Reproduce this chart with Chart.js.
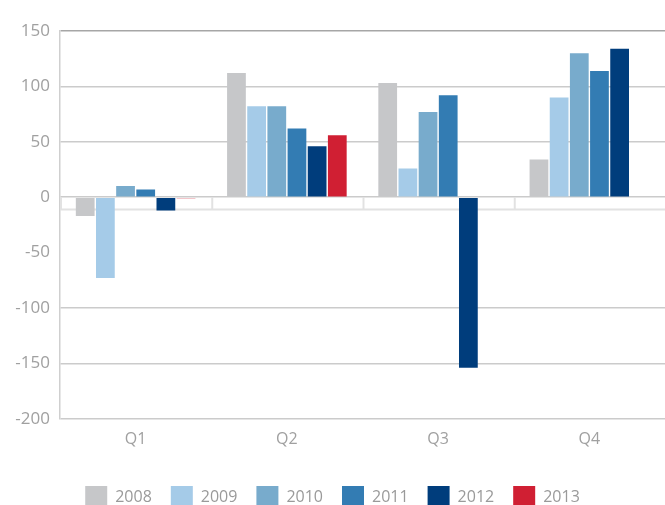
<!DOCTYPE html>
<html>
<head>
<meta charset="utf-8">
<script src="https://cdn.jsdelivr.net/npm/chart.js@4/dist/chart.umd.min.js"></script>
<style>
  html, body { margin: 0; padding: 0; background: #fff; }
  #wrap { width: 665px; height: 505px; }
</style>
</head>
<body>
<div id="wrap"><canvas id="myChart"></canvas></div>
<script>
// quarters on the x axis
const quarters = ["Q1", "Q2", "Q3", "Q4"];
const years = ["2008", "2009", "2010", "2011", "2012", "2013"];

// values
const v2008 = [-17, 112, 103, 34];
const v2009 = [-73, 82, 26, 90];
const v2010 = [10, 82, 77, 130];
const v2011 = [7, 62, 92, 114];
const v2012 = [-12, 46, -154, 134];
const v2013 = [-1, 56, null, null];

const yearColors = ["#c6c7c9", "#a5cbe8", "#78abcc", "#337cb3", "#003d7c", "#d01f33"];

// the light base line under zero, with ticks between the quarters
const baseLine = {
  id: "baseLine",
  beforeDatasetsDraw(chart) {
    const { ctx, chartArea, scales } = chart;
    const x = scales.x, y = scales.y;
    const yBase = y.getPixelForValue(-11);
    const yZero = y.getPixelForValue(0);
    ctx.save();
    ctx.strokeStyle = "#e2e2e2";
    ctx.lineWidth = 2;
    ctx.beginPath();
    ctx.moveTo(chartArea.left, yBase);
    ctx.lineTo(chartArea.right, yBase);
    ctx.stroke();
    const step = x.getPixelForValue(1) - x.getPixelForValue(0);
    for (let i = 0; i < quarters.length; i++) {
      const px = x.getPixelForValue(i) - step / 2;
      ctx.beginPath();
      ctx.moveTo(px + 1, yZero);
      ctx.lineTo(px + 1, yBase);
      ctx.stroke();
    }
    ctx.restore();
  }
};

const ctx = document.getElementById("myChart").getContext("2d");
const series = [v2008, v2009, v2010, v2011, v2012, v2013];

new Chart(ctx, {
  type: "bar",
  data: {
    labels: quarters,
    datasets: series.map((vals, i) => ({
      label: years[i],
      data: vals,
      backgroundColor: yearColors[i],
      borderWidth: 0,
      categoryPercentage: 0.8,
      barPercentage: 0.93
    }))
  },
  options: {
    responsive: true,
    maintainAspectRatio: false,
    animation: false,
    layout: { padding: { top: 31, right: 0, left: 0, bottom: -13 } },
    plugins: {
      tooltip: { enabled: false },
      legend: {
        position: "bottom",
        labels: {
          boxWidth: 22,
          boxHeight: 22,
          padding: 19,
          color: "#9a9a9a",
          font: { family: "Open Sans", size: 16 }
        }
      }
    },
    scales: {
      x: {
        afterFit(scale) { scale.height += 15; },
        grid: { display: false },
        border: { display: false },
        ticks: {
          color: "#a0a0a0",
          padding: 3,
          font: { family: "Open Sans", size: 16 }
        }
      },
      y: {
        min: -200,
        max: 150,
        afterFit(scale) { scale.width = 60; },
        border: { display: true, color: "#cfcfcf", width: 1.5 },
        grid: {
          drawTicks: false,
          lineWidth: 1.5,
          color(c) {
            if (c.tick.value === -50) return "rgba(0,0,0,0)";
            if (c.tick.value === 150) return "#a6a6a6";
            return "#cbcbcb";
          }
        },
        ticks: {
          stepSize: 50,
          padding: 10,
          color: "#a0a0a0",
          font: { family: "Open Sans", size: 17 }
        }
      }
    }
  },
  plugins: [baseLine]
});
</script>
</body>
</html>
